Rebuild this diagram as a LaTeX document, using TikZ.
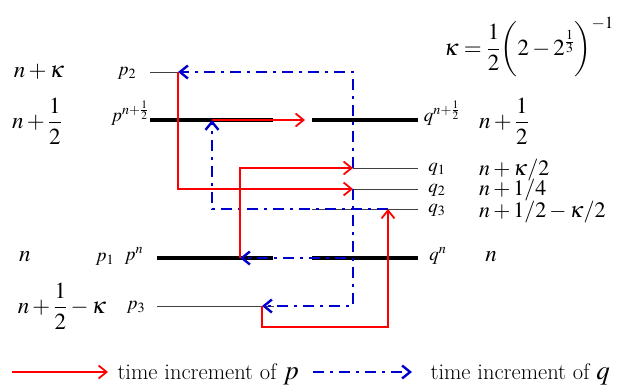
\documentclass[tikz,border=0pt]{standalone}
\usepackage{amsmath}
\usepackage{mathptmx}
\usetikzlibrary{arrows.meta,calc}
\definecolor{pred}{RGB}{255,0,0}
\definecolor{qblue}{RGB}{0,0,205}
\tikzset{
  lev/.style={line width=4pt,black},
  sublev/.style={line width=0.8pt,black!75},
  pinc/.style={pred,line width=1.8pt,->},
  qinc/.style={qblue,line width=2.4pt,dash pattern=on 11pt off 6pt on 3pt off 6pt,->},
  big/.style={font=\fontsize{23}{23}\selectfont,inner sep=1pt},
  mid/.style={font=\fontsize{22}{22}\selectfont,inner sep=0pt,anchor=base west},
  small/.style={font=\fontsize{19}{19}\selectfont,inner sep=1pt},
  txt/.style={font=\fontsize{22.5}{24}\selectfont},
}

\begin{document}
\begin{tikzpicture}[x=1pt,y=-1pt,>={Straight Barb[length=8pt,width=13pt]}, line join=miter]
	\useasboundingbox (0,0) rectangle (618,389);
	% levels on the p side
	\coordinate (P2) at (150,72);   \coordinate (a2) at (178,72);
	\coordinate (Ph) at (150,120);  \coordinate (ah) at (212,120);
	\coordinate (Phe) at (273,120); \coordinate (hm) at (305,120);
	\coordinate (Pn) at (157,258);  \coordinate (an) at (240,258);
	\coordinate (Pne) at (273,258);
	\coordinate (P3) at (157,306);  \coordinate (a3) at (262,306);
	\coordinate (P3e) at (274,306);
	% levels on the q side
	\coordinate (Qh) at (312,120);  \coordinate (Qhe) at (418,120);
	\coordinate (b1) at (353,168);  \coordinate (Q1e) at (418,168);
	\coordinate (b2) at (353,189);  \coordinate (Q2e) at (418,189);
	\coordinate (Q3) at (312,209);  \coordinate (b3) at (388,209);
	\coordinate (Q3e) at (418,209);
	\coordinate (Qn) at (312,258);  \coordinate (bn) at (346,258);
	\coordinate (Qne) at (418,258);
	\draw[sublev] (P2) -- (a2);
	\draw[sublev] (P3) -- (P3e);
	\draw[sublev] (b1) -- (Q1e);
	\draw[sublev] (b2) -- (Q2e);
	\draw[sublev] (Q3) -- (Q3e);
	\draw[lev] (Ph) -- (Phe);
	\draw[lev] (Qh) -- (Qhe);
	\draw[lev] (Pn) -- (Pne);
	\draw[lev] (Qn) -- (Qne);
	% increments of q
	\draw[qinc] (b1) |- (a2);
	\draw[qinc] (b2) |- (a3);
	\draw[qinc] (b3) -| (ah);
	\draw[qinc] (bn) -- (an);
	% increments of p
	\draw[pinc] (ah) -- (hm);
	\draw[pinc] (a2) |- (b2);
	\draw[pinc] (an) |- (b1);
	\draw[pinc] (a3) -- ++(0,21) -| (b3);
	% labels
	\node[big] (tk) at (39,72) {$n+\kappa$};
	\node[big] (th) at (37,121) {$n+\dfrac{1}{2}$};
	\node[big] (tn) at (25,257) {$n$};
	\node[big] (t3) at (62,306) {$n+\dfrac{1}{2}-\kappa$};
	\node[small] (lp2) at (127,73) {$p_2$};
	\node[small] (lph) at (130,113) {$p^{n+\frac{1}{2}}$};
	\node[small] (lp1) at (105,259) {$p_1$};
	\node[small] (lpn) at (134,256) {$p^n$};
	\node[small] (lp3) at (136,307) {$p_3$};
	\node[small] (lqh) at (442,113) {$q^{n+\frac{1}{2}}$};
	\node[small] (lq1) at (437,169) {$q_1$};
	\node[small] (lq2) at (437,190) {$q_2$};
	\node[small] (lq3) at (437,210) {$q_3$};
	\node[small] (lqn) at (438,256) {$q^n$};
	\node[big,anchor=west] (sh) at (478,121) {$n+\dfrac{1}{2}$};
	\node[mid] (s1) at (479,175) {$n+\kappa/2$};
	\node[mid] (s2) at (479,195) {$n+1/4$};
	\node[mid] (s3) at (479,217) {$n+1/2-\kappa/2$};
	\node[big] (sn) at (491,257) {$n$};
	\node[big,inner sep=0pt,anchor=east] (kap) at (614,47) {$\kappa=\dfrac{1}{2}\biggl(2-2^{\frac{1}{3}}\biggr)^{-1}$};
	% legend
	\coordinate (r0) at (12,372);  \coordinate (r1) at (108,372);
	\coordinate (u0) at (313,372); \coordinate (u1) at (412,372);
	\draw[pinc] (r0) -- (r1);
	\draw[qinc] (u0) -- (u1);
	\node[txt,anchor=base west] (lgp) at (114,379) {time increment of\ {\fontsize{27}{27}\selectfont$p$}};
	\node[txt,anchor=base west] (lgq) at (427,379) {time increment of\ {\fontsize{27}{27}\selectfont$q$}};
\end{tikzpicture}
\end{document}
